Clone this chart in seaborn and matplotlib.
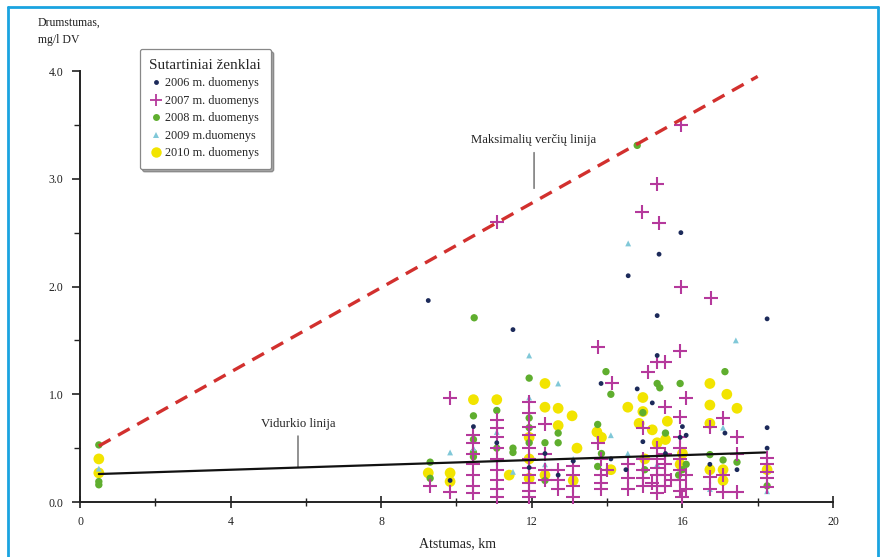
import matplotlib
matplotlib.use("Agg")
import matplotlib.pyplot as plt
from matplotlib.lines import Line2D
import seaborn as sns
import pandas as pd

# ---------------- data ----------------
x2006 = [9.25, 11.5, 14.56, 15.38, 15.96, 15.33, 15.33, 18.25, 18.25, 18.25, 17.13, 16.0, 13.84, 14.8,
         15.2, 14.95, 14.5, 10.45, 11.07, 12.35, 13.1, 14.1, 15.55, 16.1, 16.73, 17.45, 12.7, 9.83, 11.93, 15.94]
y2006 = [1.87, 1.60, 2.10, 2.30, 2.50, 1.73, 1.36, 1.70, 0.69, 0.50, 0.64, 0.70, 1.10, 1.05,
         0.92, 0.56, 0.30, 0.70, 0.55, 0.45, 0.38, 0.40, 0.45, 0.62, 0.35, 0.30, 0.25, 0.20, 0.32, 0.60]

x2007 = [15.96, 15.33, 14.93, 15.38, 11.07, 15.96, 16.76, 13.76, 15.94, 15.54, 15.33, 15.09, 14.13, 16.1,
         9.83, 17.08, 16.73, 17.45, 15.55, 15.94, 14.95, 13.75, 11.93, 11.93, 12.35, 11.07, 11.07,
         18.25, 18.25, 18.25, 18.25, 18.25, 17.08, 17.08, 17.45, 17.45, 16.73, 16.73, 9.3, 9.83,
         10.45, 10.45, 10.45, 10.45, 10.45, 10.45, 11.07, 11.07, 11.07, 11.07, 11.07, 11.07,
         11.93, 11.93, 11.93, 11.93, 11.93, 11.93, 11.93, 11.93, 12.35, 12.35, 12.35, 12.7, 12.7, 12.7,
         13.1, 13.1, 13.1, 13.1, 13.85, 13.85, 13.85, 13.85, 14.55, 14.55, 14.55, 14.95, 14.95, 14.95, 14.95,
         15.33, 15.33, 15.33, 15.33, 15.33, 15.33, 15.55, 15.55, 15.55, 15.55,
         15.94, 15.94, 15.94, 15.94, 15.94, 15.94, 16.1, 16.1,
         10.45, 11.07, 11.93, 14.0, 15.2, 15.7, 16.0]
y2007 = [3.50, 2.95, 2.69, 2.59, 2.60, 2.00, 1.89, 1.44, 1.40, 1.30, 1.30, 1.21, 1.10, 0.97,
         0.97, 0.78, 0.70, 0.60, 0.88, 0.79, 0.69, 0.55, 0.93, 0.83, 0.72, 0.76, 0.69,
         0.41, 0.35, 0.28, 0.22, 0.14, 0.09, 0.25, 0.09, 0.45, 0.23, 0.12, 0.15, 0.09,
         0.62, 0.55, 0.45, 0.35, 0.25, 0.15, 0.60, 0.50, 0.40, 0.30, 0.20, 0.12,
         0.62, 0.50, 0.40, 0.32, 0.25, 0.18, 0.10, 0.05, 0.45, 0.30, 0.20, 0.30, 0.20, 0.12,
         0.33, 0.25, 0.15, 0.05, 0.40, 0.25, 0.18, 0.12, 0.35, 0.22, 0.12, 0.40, 0.30, 0.22, 0.15,
         0.50, 0.40, 0.32, 0.25, 0.15, 0.08, 0.45, 0.35, 0.25, 0.15,
         0.60, 0.50, 0.40, 0.30, 0.20, 0.10, 0.25, 0.12,
         0.08, 0.05, 0.70, 0.30, 0.18, 0.20, 0.05]

x2008 = [0.5, 0.5, 0.5, 14.8, 10.47, 11.93, 13.97, 14.1, 15.33, 15.4, 15.94, 17.13, 16.73, 17.08, 17.45,
         10.45, 10.45, 10.45, 11.07, 11.07, 11.5, 11.5, 11.93, 11.93, 12.35, 9.3, 12.7, 12.7, 13.75,
         14.95, 15.55, 13.75, 9.3, 12.35, 15.0, 16.0, 18.25, 10.45, 11.93, 13.85, 15.9, 16.1]
y2008 = [0.53, 0.19, 0.16, 3.31, 1.71, 1.15, 1.21, 1.00, 1.10, 1.06, 1.10, 1.21, 0.44, 0.39, 0.37,
         0.46, 0.42, 0.80, 0.85, 0.50, 0.50, 0.46, 0.69, 0.55, 0.55, 0.37, 0.64, 0.55, 0.72,
         0.83, 0.64, 0.33, 0.22, 0.20, 0.30, 0.30, 0.15, 0.58, 0.78, 0.45, 0.25, 0.35]

x2009 = [0.5, 14.56, 11.93, 12.7, 17.42, 17.08, 9.83, 11.93, 10.45, 11.07, 14.1, 12.35, 13.1, 15.33,
         16.73, 18.25, 11.5, 14.55]
y2009 = [0.31, 2.40, 1.36, 1.10, 1.50, 0.69, 0.46, 0.97, 0.50, 0.65, 0.62, 0.35, 0.40, 0.35,
         0.12, 0.10, 0.28, 0.45]

x2010 = [0.5, 0.5, 10.45, 11.07, 12.35, 12.35, 11.93, 9.25, 9.83, 9.83, 11.4, 12.7, 13.07, 13.2, 13.73,
         13.85, 14.55, 14.95, 14.95, 15.2, 14.85, 15.55, 14.1, 12.7, 16.73, 16.73, 17.18, 17.45, 16.73,
         16.73, 17.08, 11.93, 15.33, 15.6, 16.0, 13.1, 11.93, 12.35, 15.0, 15.94, 17.08, 18.25]
y2010 = [0.40, 0.27, 0.95, 0.95, 1.10, 0.88, 0.60, 0.27, 0.27, 0.19, 0.25, 0.87, 0.80, 0.50, 0.65,
         0.60, 0.88, 0.97, 0.84, 0.67, 0.73, 0.58, 0.30, 0.71, 1.10, 0.90, 1.00, 0.87, 0.73,
         0.30, 0.30, 0.40, 0.55, 0.75, 0.45, 0.20, 0.22, 0.25, 0.40, 0.35, 0.20, 0.30]

max_line_x = [0.5, 18.0]
max_line_y = [0.52, 3.95]
mean_line_x = [0.5, 18.2]
mean_line_y = [0.26, 0.46]

series_labels = ["2006 m. duomenys", "2007 m. duomenys", "2008 m. duomenys",
                 "2009 m.duomenys", "2010 m. duomenys"]
x_ticks = [0, 4, 8, 12, 16, 20]
y_ticks = [0.0, 1.0, 2.0, 3.0, 4.0]
y_tick_labels = ["0.0", "1.0", "2.0", "3.0", "4.0"]

# ---------------- style ----------------
sns.set_theme(style="white")
plt.rcParams["font.family"] = ["Liberation Serif", "DejaVu Serif"]

fig = plt.figure(figsize=(8.84, 5.57), dpi=100)
ax = fig.add_axes([0.0905, 0.0987, 0.8518, 0.7738])

styles = [
    dict(color="#1c2a5a", marker="o", s=12, linewidth=0),
    dict(color="#b5399c", marker="+", s=90, linewidth=1.5),
    dict(color="#5fae2e", marker="o", s=28, linewidth=0),
    dict(color="#80c8d8", marker="^", s=18, linewidth=0),
    dict(color="#f2e400", marker="o", s=60, linewidth=0),
]
xs = [x2006, x2007, x2008, x2009, x2010]
ys = [y2006, y2007, y2008, y2009, y2010]
draw_order = [4, 2, 3, 1, 0]
for k, i in enumerate(draw_order):
    df = pd.DataFrame({"x": xs[i], "y": ys[i]})
    st = styles[i]
    sns.scatterplot(data=df, x="x", y="y", ax=ax, color=st["color"], marker=st["marker"],
                    s=st["s"], linewidth=st["linewidth"],
                    edgecolor=st["color"] if st["marker"] == "+" else "none",
                    clip_on=False, zorder=3 + k * 0.1, legend=False)

sns.lineplot(x=max_line_x, y=max_line_y, ax=ax, color="#d2302e", linewidth=2.4,
             linestyle=(0, (4, 2.6)), zorder=4)
sns.lineplot(x=mean_line_x, y=mean_line_y, ax=ax, color="#111111", linewidth=1.6, zorder=5)

# annotations
ax.annotate("Maksimalių verčių linija", xy=(12.06, 2.91), xytext=(12.06, 3.30),
            ha="center", va="bottom", fontsize=9.2, color="#222222",
            arrowprops=dict(arrowstyle="-", color="#555555", lw=0.9, shrinkA=2, shrinkB=0))
ax.annotate("Vidurkio linija", xy=(5.79, 0.32), xytext=(5.79, 0.67),
            ha="center", va="bottom", fontsize=9.2, color="#222222",
            arrowprops=dict(arrowstyle="-", color="#555555", lw=0.9, shrinkA=2, shrinkB=0))

# axes
ax.set_xlim(0, 20)
ax.set_ylim(0, 4)
ax.set_xticks(x_ticks)
ax.set_xticklabels([str(t) for t in x_ticks])
ax.set_yticks(y_ticks)
ax.set_yticklabels(y_tick_labels)
ax.set_xticks([2, 6, 10, 14, 18], minor=True)
ax.set_yticks([0.5, 1.5, 2.5, 3.5], minor=True)
ax.set_xlabel("")
ax.set_ylabel("")
for side in ["top", "right"]:
    ax.spines[side].set_visible(False)
for side in ["left", "bottom"]:
    ax.spines[side].set_color("#222222")
    ax.spines[side].set_linewidth(1.4)
ax.tick_params(axis="x", which="major", direction="inout", length=8, width=1.2, colors="#222222",
               labelsize=8.5, pad=6, bottom=True)
ax.tick_params(axis="x", which="minor", direction="inout", length=6, width=1.0, colors="#222222", bottom=True)
ax.tick_params(axis="y", which="major", direction="out", length=6, width=1.2, colors="#222222",
               labelsize=8.5, pad=6, left=True)
ax.tick_params(axis="y", which="minor", direction="out", length=4, width=1.0, colors="#222222", left=True)
ax.set_facecolor("white")

fig.text(0.043, 0.970, "Drumstumas,\nmg/l DV", ha="left", va="top", fontsize=8.5, color="#222222",
         linespacing=1.6)
fig.text(0.518, 0.012, "Atstumas, km", ha="center", va="bottom", fontsize=10, color="#222222")

# legend
handles = []
for i, lab in enumerate(series_labels):
    st = styles[i]
    ms = {0: 3.5, 1: 9, 2: 5, 3: 4.5, 4: 7.5}[i]
    handles.append(Line2D([], [], linestyle="none", marker=st["marker"], color=st["color"],
                          markersize=ms, markeredgewidth=1.3 if st["marker"] == "+" else 0))
leg = ax.legend(handles, series_labels, title="Sutartiniai ženklai", loc="upper left",
                bbox_to_anchor=(0.158, 0.912), bbox_transform=fig.transFigure,
                fontsize=8.8, title_fontsize=11, frameon=True, fancybox=True, shadow=True,
                handlelength=0.8, handletextpad=0.3, labelspacing=0.45, borderpad=0.8,
                borderaxespad=0)
leg.get_frame().set_edgecolor("#888888")
leg.get_frame().set_linewidth(0.9)

# blue page border
border_color = "#1aa3e0"
fig.add_artist(Line2D([0.009, 0.009], [0.0, 0.988], transform=fig.transFigure, color=border_color, lw=2))
fig.add_artist(Line2D([0.009, 0.993], [0.988, 0.988], transform=fig.transFigure, color=border_color, lw=2))
fig.add_artist(Line2D([0.993, 0.993], [0.0, 0.988], transform=fig.transFigure, color=border_color, lw=2))

fig.savefig("out.png", dpi=100, facecolor="white")
